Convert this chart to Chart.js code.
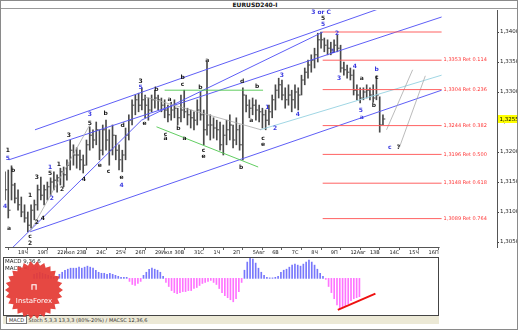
<!DOCTYPE html>
<html><head><meta charset="utf-8">
<script src="https://cdn.jsdelivr.net/npm/chart.js@4.4.0/dist/chart.umd.min.js"></script>
<style>
html,body{margin:0;padding:0;width:518px;height:330px;overflow:hidden;background:#fff;}
#frame{position:absolute;left:0;top:0;width:516px;height:328px;border:1px solid #8a8a8a;pointer-events:none;z-index:5}
#title{position:absolute;left:0;top:0;width:518px;height:8px;border-bottom:1px solid #9a9a9a;font:bold 6px "DejaVu Sans";line-height:9px;text-align:center;color:#111;padding-left:0}
#title span{position:relative;left:-4px}
#c1{position:absolute;left:0;top:0;z-index:2}
#c2{position:absolute;left:0;top:256px;z-index:3}
#status{position:absolute;left:3px;top:315px;width:436px;height:8px;background:#ece9d6;border-top:1px solid #444;font:5px "DejaVu Sans";line-height:8px;color:#333;z-index:1;white-space:nowrap}
#status b{font-weight:normal;border:1px solid #777;padding:0 2px;margin-left:3px;background:#fff}
</style></head>
<body>
<div id="title"><span>EURUSD240-I</span></div>
<canvas id="c1" width="518" height="258"></canvas>
<div id="status"><b>MACD</b> Stoch 5,3,3 13,3,3 (80%-20%) / MACSC 12,36,6</div>
<canvas id="c2" width="518" height="74"></canvas>
<div id="frame"></div>
<script>
// ---- data (4-hour bars, index 0 = 18 Jul 00:00) ----
const firstBar = -4;
const highs = [1.3167,1.3170,1.3177,1.3148,1.3137,1.3125,1.3112,1.3100,1.3112,1.3120,
1.3145,1.3158,1.3145,1.3150,1.3157,1.3167,1.3162,1.3173,1.3175,1.3187,
1.3220,1.3212,1.3207,1.3203,1.3195,1.3220,1.3242,1.3237,1.3250,1.3237,
1.3245,1.3253,1.3237,1.3245,1.3228,1.3212,1.3203,1.3240,1.3262,1.3287,
1.3295,1.3298,1.3307,1.3295,1.3290,1.3295,1.3303,1.3295,1.3290,1.3287,
1.3278,1.3283,1.3287,1.3273,1.3295,1.3303,1.3273,1.3270,1.3267,1.3287,
1.3300,1.3270,1.3350,1.3262,1.3257,1.3253,1.3250,1.3245,1.3253,1.3262,
1.3245,1.3257,1.3245,1.3307,1.3295,1.3287,1.3290,1.3287,1.3278,1.3273,
1.3270,1.3278,1.3295,1.3312,1.3323,1.3320,1.3307,1.3312,1.3303,1.3312,
1.3307,1.3328,1.3340,1.3353,1.3362,1.3373,1.3398,1.3400,1.3390,1.3387,
1.3383,1.3387,1.3395,1.3378,1.3350,1.3345,1.3340,1.3337,1.3312,1.3307,
1.3307,1.3312,1.3307,1.3312,1.3327,1.3292,1.3262];
const lows = [1.3120,1.3090,1.3120,1.3115,1.3103,1.3092,1.3083,1.3067,1.3073,1.3087,
1.3103,1.3120,1.3112,1.3120,1.3128,1.3137,1.3133,1.3145,1.3142,1.3153,
1.3170,1.3178,1.3173,1.3170,1.3165,1.3178,1.3203,1.3207,1.3212,1.3187,
1.3195,1.3203,1.3178,1.3195,1.3187,1.3170,1.3167,1.3187,1.3220,1.3245,
1.3262,1.3267,1.3270,1.3257,1.3253,1.3267,1.3273,1.3270,1.3267,1.3257,
1.3250,1.3253,1.3257,1.3245,1.3250,1.3257,1.3245,1.3240,1.3237,1.3245,
1.3253,1.3212,1.3228,1.3220,1.3223,1.3220,1.3203,1.3195,1.3212,1.3220,
1.3207,1.3212,1.3203,1.3187,1.3267,1.3257,1.3262,1.3253,1.3250,1.3240,
1.3237,1.3245,1.3257,1.3270,1.3290,1.3287,1.3273,1.3278,1.3267,1.3273,
1.3270,1.3295,1.3312,1.3323,1.3333,1.3340,1.3350,1.3373,1.3367,1.3362,
1.3362,1.3367,1.3367,1.3333,1.3328,1.3323,1.3320,1.3295,1.3287,1.3282,
1.3287,1.3290,1.3287,1.3283,1.3287,1.3233,1.3245];
const closes = [1.3137,1.3103,1.3145,1.3123,1.3112,1.3100,1.3090,1.3078,1.3103,1.3112,
1.3137,1.3128,1.3137,1.3142,1.3150,1.3153,1.3157,1.3167,1.3162,1.3178,
1.3203,1.3195,1.3195,1.3187,1.3178,1.3212,1.3228,1.3220,1.3237,1.3203,
1.3237,1.3220,1.3203,1.3228,1.3203,1.3187,1.3195,1.3228,1.3253,1.3278,
1.3287,1.3278,1.3287,1.3278,1.3270,1.3287,1.3290,1.3287,1.3278,1.3270,
1.3262,1.3270,1.3273,1.3257,1.3270,1.3267,1.3262,1.3257,1.3253,1.3270,
1.3262,1.3237,1.3245,1.3245,1.3240,1.3237,1.3212,1.3228,1.3237,1.3245,
1.3220,1.3237,1.3212,1.3295,1.3278,1.3273,1.3278,1.3270,1.3267,1.3262,
1.3253,1.3267,1.3287,1.3303,1.3312,1.3295,1.3287,1.3295,1.3287,1.3300,
1.3295,1.3320,1.3333,1.3345,1.3353,1.3362,1.3387,1.3387,1.3378,1.3373,
1.3370,1.3378,1.3373,1.3340,1.3337,1.3333,1.3328,1.3303,1.3295,1.3290,
1.3300,1.3303,1.3295,1.3290,1.3295,1.3245,1.3255];
const macd = [0.0004,0.0005,0.0006,0.0005,0.0004,0.0003,0.0002,0.0001,0.0002,0.0004,
0.0006,0.0008,0.0009,0.0010,0.0010,0.0010,0.0011,0.0010,0.0011,0.0012,
0.0011,0.0010,0.0008,0.0006,0.0005,0.0005,0.0004,0.0005,0.0004,0.0003,
0.0002,0.0001,0.0001,0.0001,-0.0003,-0.0006,-0.0007,-0.0005,-0.0003,0.0003,
0.0006,0.0009,0.0010,0.0009,0.0008,0.0006,0.0002,-0.0004,-0.0008,-0.0012,
-0.0014,-0.0015,-0.0014,-0.0013,-0.0013,-0.0012,-0.0012,-0.0010,-0.0009,-0.0007,
-0.0005,-0.0004,-0.0003,-0.0002,-0.0004,-0.0006,-0.0010,-0.0014,-0.0017,-0.0019,
-0.0021,-0.0023,-0.0020,-0.0013,-0.0004,0.0008,0.0016,0.0020,0.0019,0.0015,
0.0010,0.0006,0.0003,0.0001,0.00005,0.00005,0.0001,0.0002,0.0006,0.0008,
0.0009,0.0011,0.0013,0.0014,0.0013,0.0012,0.0014,0.0016,0.0018,0.0016,
0.0013,0.0009,0.0005,0.0002,-0.0001,-0.0008,-0.0014,-0.0020,-0.0026,-0.0030,
-0.0029,-0.0027,-0.0025,-0.0022,-0.0020,-0.0019,-0.0018];
const dayLabels = ["18Ч","19П","22Июл","23В","24С","25Ч","26П","29Июл","30В","31С","1Ч","2П",
"5Авг","6В","7С","8Ч","9П","12Авг","13В","14С","15Ч","16П"];
const priceTicks = [1.3050,1.3100,1.3150,1.3200,1.3250,1.3300,1.3350,1.3400];
const lastPrice = 1.3255;
// Fibonacci retracement levels
const fibLevels = [1.3400,1.3353,1.3304,1.3244,1.3196,1.3148,1.3089];
const fibText = ["","1,3353 Ret 0.114","1,3304 Ret 0.236","1,3244 Ret 0.382","1,3196 Ret 0.500","1,3148 Ret 0.618","1,3089 Ret 0.764"];
const fibFrom = 93.5, fibTo = 130;
// trend lines: [bar1, price1, bar2, price2]
const blueLines = [
 [5.2,1.3237,123.5,1.3463],
 [-2.8,1.3187,130,1.3425],
 [3.7,1.3067,130,1.3303],
 [-1.8,1.3040,37.9,1.3253],
 [37.9,1.3253,93.6,1.3400]
];
const greenLines = [[45,1.3303,75.2,1.3303],[42.5,1.3242,73.7,1.3175]];
const grayLines = [[3.7,1.3067,22,1.3245],[38.8,1.3292,74.6,1.3237],[113.1,1.3237,121.1,1.3337],[117,1.3207,125,1.3327]];
const cyanLines = [[74.3,1.3237,130,1.3328]];
const macdRedLine = [104.3,-0.0031,117.7,-0.0015];
// wave labels: [text, bar, price, colour key]
const waveLabels = [
 ["1",-3.1,1.3202,"k"],["5",-3.1,1.3190,"b"],["b",-1.5,1.3170,"k"],["4",-4,1.3110,"b"],["a",-2.8,1.3073,"k"],
 ["c",3.7,1.3060,"k"],["2",3.7,1.3047,"k"],["1",3.7,1.3127,"k"],["3",5.8,1.3158,"k"],["2",5.8,1.3082,"k"],
 ["4",7.6,1.3090,"k"],["1",9.8,1.3175,"b"],["5",9.8,1.3165,"k"],["2",10.4,1.3123,"b"],["1",12.5,1.3180,"k"],
 ["2",13.5,1.3138,"k"],["3",15.6,1.3227,"k"],["4",20.2,1.3155,"k"],["3",22,1.3262,"b"],["5",22,1.3248,"k"],
 ["b",26.9,1.3265,"k"],["e",25.1,1.3177,"k"],["c",27.8,1.3167,"k"],["d",32.1,1.3245,"k"],["e",31.8,1.3157,"k"],
 ["4",31.8,1.3145,"b"],["e",38.8,1.3247,"k"],["3",37.6,1.3318,"k"],["5",37.6,1.3307,"b"],["b",42.5,1.3305,"k"],
 ["a",46.5,1.3287,"k"],["b",50.5,1.3325,"k"],["c",50.5,1.3313,"k"],["b",56,1.3308,"k"],["a",58.1,1.3352,"k"],
 ["c",45.3,1.3230,"k"],["a",45.3,1.3222,"k"],["b",49.2,1.3240,"k"],["a",51.1,1.3223,"k"],["c",56.9,1.3202,"k"],
 ["e",56.9,1.3192,"k"],["b",68.5,1.3175,"k"],["d",68.8,1.3317,"k"],["b",73.4,1.3310,"k"],["a",71.6,1.3253,"k"],
 ["1",76.5,1.3275,"b"],["3",81,1.3328,"b"],["4",85.9,1.3262,"b"],["2",78.9,1.3240,"b"],["c",75.2,1.3223,"k"],
 ["e",75.2,1.3212,"k"],["3 or C",93,1.3432,"b"],["5",93.6,1.3422,"k"],["5",93.6,1.3412,"b"],["2",97.9,1.3398,"b"],
 ["1",96.6,1.3367,"b"],["3",98.5,1.3323,"b"],["4",103.4,1.3342,"b"],["a",105.5,1.3322,"k"],["5",105.2,1.3270,"b"],
 ["b",109.2,1.3278,"k"],["c",110.1,1.3325,"k"],["b",110.1,1.3338,"b"],["a",105.5,1.3257,"b"],["c",114.1,1.3207,"b"],
 ["?",116.8,1.3207,"k"]
];
// ---- layout constants ----
const X_MIN = -4, X_MAX = 147;
const PLOT_L = 3, PLOT_R = 497, MACD_R = 439;
const FONT = '"DejaVu Sans"';
const barX = highs.map((_, i) => firstBar + i);

function lineDs(arr, color, width) {
  return arr.map(l => ({type:'line', data:[{x:l[0],y:l[1]},{x:l[2],y:l[3]}], borderColor:color,
    borderWidth:width, pointRadius:0, fill:false, tension:0, order:0}));
}

const annot = {
  id:'annot',
  afterDatasetsDraw(chart){
    const {ctx, scales:{x,y}, chartArea:a} = chart;
    ctx.save();
    ctx.strokeStyle='#555'; ctx.lineWidth=1;
    ctx.beginPath(); ctx.moveTo(a.left, a.bottom+0.5); ctx.lineTo(x.getPixelForValue(fibTo)-2, a.bottom+0.5); ctx.stroke();
    ctx.textAlign='center'; ctx.textBaseline='middle';
    ctx.font = 'bold 6px '+FONT;
    waveLabels.forEach(([t,i,p,c]) => {
      ctx.fillStyle = c==='b' ? '#3a3ae0' : '#1a1a1a';
      ctx.fillText(t, x.getPixelForValue(i), y.getPixelForValue(p));
    });
    ctx.textAlign='left'; ctx.font='5px '+FONT; ctx.fillStyle='#ff3333';
    fibLevels.forEach((lv,k) => { if (fibText[k]) ctx.fillText(fibText[k], x.getPixelForValue(fibTo)+2, y.getPixelForValue(lv)); });
    const yp = y.getPixelForValue(lastPrice);
    ctx.fillStyle='#ffff00'; ctx.fillRect(a.right+1, yp-4, 21, 8);
    ctx.fillStyle='#000'; ctx.font='5.5px '+FONT; ctx.textAlign='left';
    ctx.fillText(lastPrice.toFixed(4).replace('.',','), a.right+2.5, yp+0.5);
    ctx.restore();
  }
};

new Chart(document.getElementById('c1'), {
  type:'bar',
  data:{datasets:[
    {type:'bar', data: barX.map((v,i)=>({x:v, y:[lows[i], highs[i]]})), backgroundColor:'#4a4a4a', barThickness:1, order:2},
    {type:'scatter', data: barX.map((v,i)=>({x:v+0.35, y:closes[i]})), pointStyle:'line', radius:1.2, borderColor:'#4a4a4a', borderWidth:1, order:2},
    ...lineDs(fibLevels.map(v=>[fibFrom,v,fibTo,v]), 'rgba(255,90,90,0.95)', 1),
    ...lineDs(grayLines, 'rgba(170,170,170,0.8)', 1),
    ...lineDs(cyanLines, 'rgba(150,210,225,0.9)', 1),
    ...lineDs(greenLines, 'rgba(80,200,80,0.9)', 1),
    ...lineDs(blueLines, 'rgba(85,85,245,0.95)', 1)
  ]},
  options:{
    responsive:false, animation:false, events:[],
    layout:{padding:{left:PLOT_L, top:10, right:0, bottom:0}},
    plugins:{legend:{display:false}, tooltip:{enabled:false}},
    scales:{
      x:{type:'linear', min:X_MIN, max:X_MAX, offset:false,
        afterFit(s){ s.height = 11; },
        afterBuildTicks(s){ s.ticks = dayLabels.map((_,k)=>({value:k*6})); },
        ticks:{autoSkip:false, maxRotation:0, align:'start', padding:0, font:{size:5, family:FONT}, color:'#222',
          callback:(v)=> dayLabels[Math.round(v/6)] },
        grid:{drawOnChartArea:false, tickLength:3, color:'#666'}, border:{display:false}},
      y:{position:'right', min:1.304167, max:1.343667,
        afterFit(s){ s.width = 21; },
        afterBuildTicks(s){ s.ticks = priceTicks.map(v=>({value:v})); },
        ticks:{padding:1, font:{size:5.5, family:FONT}, color:'#222', callback:(v)=>v.toFixed(4).replace('.',',')},
        grid:{drawOnChartArea:false, tickLength:2, color:'#444'}, border:{display:true, color:'#555'}}
    }
  },
  plugins:[annot]
});

// ---- MACD pane ----
const X2_MAX = X_MIN + (MACD_R-PLOT_L)/(PLOT_R-PLOT_L)*(X_MAX-X_MIN);
const macdPane = {
  id:'macdPane',
  beforeDatasetsDraw(chart){
    const {ctx, chartArea:a} = chart;
    ctx.save(); ctx.fillStyle='#fff'; ctx.fillRect(a.left, a.top, a.right-a.left, a.bottom-a.top); ctx.restore();
  },
  afterDraw(chart){
    const {ctx, chartArea:a} = chart;
    ctx.save();
    ctx.strokeStyle='#444'; ctx.lineWidth=1;
    ctx.strokeRect(a.left+0.5, a.top+0.5, a.right-a.left-1, a.bottom-a.top);
    ctx.font='5.5px '+FONT; ctx.fillStyle='#222'; ctx.textBaseline='middle'; ctx.textAlign='left';
    ctx.fillText('MACD 9,36,6', a.left+2, a.top+5);
    ctx.fillText('MACD = ', a.left+2, a.top+12);
    ctx.fillStyle='#ff40ff'; ctx.fillText('0,00', a.left+23, a.top+12);
    const cx=34, cy=34, R=29, r=25, n=26;
    ctx.beginPath();
    for (let k=0;k<2*n;k++){ const ang=Math.PI*k/n; const rr = k%2? r:R; ctx.lineTo(cx+rr*Math.cos(ang), cy+rr*Math.sin(ang)); }
    ctx.closePath(); ctx.fillStyle='rgba(228,58,52,0.93)'; ctx.fill();
    ctx.fillStyle='#fff'; ctx.textAlign='center'; ctx.font='7px '+FONT;
    ctx.fillText('InstaForex', cx, cy+11);
    ctx.font='bold 9px '+FONT; ctx.fillText('⊓', cx, cy-2);
    ctx.restore();
  }
};
new Chart(document.getElementById('c2'), {
  type:'bar',
  data:{datasets:[
    {type:'bar', data: barX.map((v,i)=>({x:v, y:macd[i]})), barThickness:1,
      backgroundColor: macd.map(v => v>=0 ? 'rgba(95,95,250,0.85)' : 'rgba(255,90,255,0.85)'), order:2},
    {type:'line', data:[{x:macdRedLine[0],y:macdRedLine[1]},{x:macdRedLine[2],y:macdRedLine[3]}],
      borderColor:'#ee1111', borderWidth:2, pointRadius:0, order:0}
  ]},
  options:{
    responsive:false, animation:false, events:[],
    layout:{padding:{left:PLOT_L, top:1, right:518-MACD_R, bottom:15}},
    plugins:{legend:{display:false}, tooltip:{enabled:false}},
    scales:{
      x:{type:'linear', min:X_MIN, max:X2_MAX, display:false},
      y:{min:-0.0036, max:0.0021, display:false}
    }
  },
  plugins:[macdPane]
});
</script>
</body></html>
